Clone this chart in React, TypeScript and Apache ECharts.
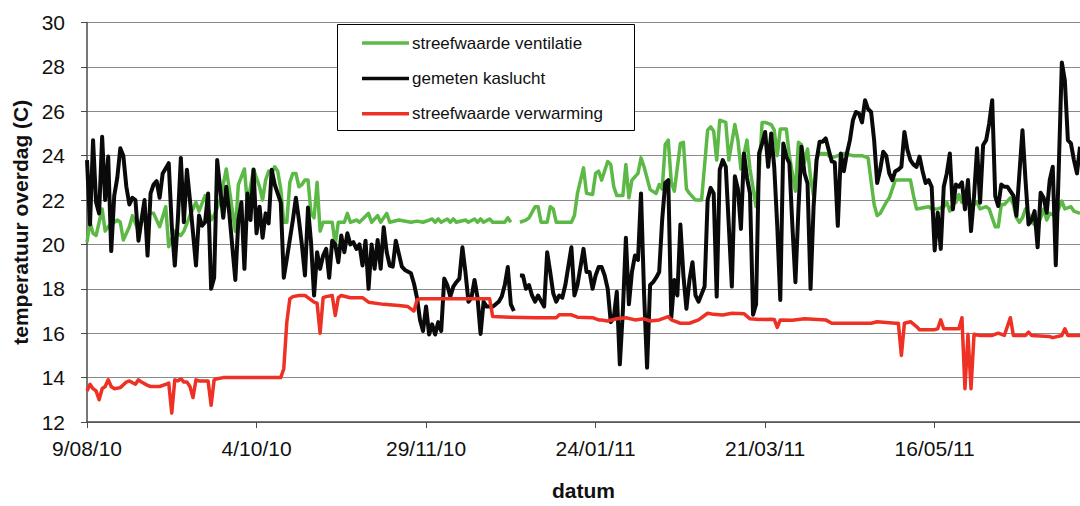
import React, { useEffect, useRef } from "react";
import * as echarts from "echarts";

// x = days since 9/08/10
const xTickDays = [0, 56, 112, 168, 224, 280];
const seriesNames = ["streefwaarde ventilatie", "gemeten kaslucht", "streefwaarde verwarming"];

const ventilatie: [number, number | null][] = [
  [0,20.1],[1,21.0],[2,20.5],[3,20.4],[4,21.0],[5,21.6],[6,20.6],[7,20.8],[9,21.0],[10,21.1],[11,21.0],[12,20.2],[14,20.8],[15,21.3],[17,20.6],[18,21.0],[21,21.4],[22,21.4],[24,20.8],[26,21.7],[27,19.9],[29,20.6],[31,20.4],[32,20.6],[34,21.3],[36,21.9],[37,21.5],[39,22.2],[41,21.1],[42,21.3],[44,22.0],[46,23.4],[47,22.5],[49,20.6],[50,22.7],[52,23.4],[53,21.8],[55,23.4],[57,22.6],[58,22.0],[59,22.9],[60,23.3],[61,23.2],[62,23.5],[63,23.3],[64,22.5],[65,21.0],[66,21.0],[67,22.8],[68,23.2],[69,23.2],[70,22.6],[71,22.7],[72,22.9],[73,22.9],[74,21.4],[75,21.2],[76,22.8],[77,20.6],[78,21.0],[81,21.0],[82,20.0],[83,21.0],[85,21.0],[86,21.4],[87,21.0],[89,21.1],[90,21.0],[93,21.4],[94,21.0],[96,21.3],[97,21.0],[99,21.4],[100,21.0],[103,21.1],[107,21.0],[109,21.05],[111,21.0],[113,21.1],[114,21.15],[115,21.0],[116,21.15],[117,21.0],[119,21.15],[120,21.0],[121,21.15],[122,21.0],[125,21.1],[126,21.0],[128,21.15],[129,21.0],[130,21.15],[131,21.0],[133,21.15],[134,21.0],[138,21.0],[139,21.2],[140,21.0],[141,null],[143,21.0],[145,21.1],[146,21.2],[148,21.7],[149,21.7],[150,21.0],[152,21.0],[153,21.7],[154,21.6],[155,21.0],[160,21.0],[161,21.3],[162,22.3],[164,23.45],[165,22.3],[167,22.25],[168,23.2],[169,23.3],[170,22.9],[172,23.74],[173,23.6],[174,22.6],[175,22.2],[177,22.2],[178,23.6],[179,22.1],[180,22.9],[182,23.2],[183,23.9],[184,23.5],[186,22.47],[188,22.3],[189,22.7],[190,22.5],[191,24.5],[192,24.7],[193,22.8],[194,22.4],[196,24.55],[197,24.6],[198,22.5],[199,22.3],[201,22.0],[203,22.0],[205,25.15],[206,25.3],[207,25.1],[208,23.8],[209,25.6],[211,25.5],[212,23.8],[214,25.4],[215,24.7],[216,23.4],[218,24.7],[219,23.4],[221,21.7],[222,23.2],[223,25.5],[224,25.5],[226,25.4],[227,25.15],[228,24.0],[229,25.2],[231,25.2],[232,24.0],[234,22.4],[235,24.6],[236,24.5],[237,23.7],[238,24.3],[239,23.0],[240,22.2],[241,23.9],[242,24.1],[244,24.1],[246,23.9],[248,24.0],[250,24.1],[253,24.0],[256,24.0],[258,23.9],[260,21.8],[261,21.3],[262,21.4],[264,21.9],[265,22.1],[267,22.9],[272,22.9],[273,22.2],[274,21.6],[278,21.7],[279,21.6],[281,21.6],[283,21.7],[284,21.9],[285,21.5],[286,21.8],[287,21.9],[288,22.25],[289,21.9],[291,22.0],[292,21.7],[294,21.9],[295,21.6],[297,21.7],[298,21.6],[299,21.2],[300,20.8],[301,20.8],[302,21.8],[303,21.8],[305,22.1],[306,21.8],[307,21.2],[308,21.0],[309,21.2],[310,21.6],[311,21.4],[312,21.0],[313,20.9],[314,20.85],[315,21.2],[316,21.6],[317,21.1],[318,21.4],[320,21.3],[322,21.95],[323,21.6],[325,21.7],[326,21.5],[328,21.4]
];

const kaslucht: [number, number | null][] = [
  [0,23.8],[1,20.9],[2,24.7],[3,21.9],[4,21.4],[5,24.85],[6,22.0],[7,23.96],[8,19.7],[9,22.2],[10,23.0],[11,24.33],[12,24.0],[13,22.6],[14,21.8],[15,22.1],[16,22.0],[17,20.17],[18,21.1],[19,22.0],[20,19.5],[21,22.3],[22,22.7],[23,22.85],[24,22.1],[25,23.2],[27,23.66],[28,20.84],[29,19.05],[30,21.1],[31,23.9],[32,21.0],[33,23.37],[34,22.0],[35,20.55],[36,19.05],[37,21.3],[38,20.84],[39,21.0],[40,22.3],[41,18.0],[42,18.5],[43,23.8],[45,21.2],[46,22.6],[47,21.4],[49,18.4],[50,21.1],[51,21.9],[52,18.9],[53,22.3],[54,21.1],[55,23.37],[56,20.5],[57,21.7],[58,20.3],[59,21.4],[60,20.95],[61,23.37],[62,22.7],[64,21.9],[65,18.5],[66,19.35],[68,21.1],[69,22.1],[70,21.1],[71,19.95],[72,18.6],[73,21.66],[74,20.1],[75,17.7],[76,19.65],[77,18.9],[78,19.5],[79,19.8],[80,18.5],[81,20.17],[82,20.0],[83,19.2],[84,20.4],[85,19.65],[86,20.5],[87,20.0],[88,20.1],[89,19.8],[90,20.0],[91,19.05],[92,20.17],[93,18.0],[94,20.0],[95,18.9],[96,20.2],[97,18.9],[98,20.77],[99,19.65],[100,19.05],[101,19.0],[102,20.17],[104,19.0],[105,18.85],[107,18.7],[108,18.24],[109,17.6],[110,16.6],[111,16.1],[112,17.2],[113,15.94],[114,16.4],[115,15.94],[116,16.5],[117,16.1],[118,18.46],[119,18.17],[120,17.65],[121,18.1],[122,18.3],[123,18.46],[124,19.87],[125,18.76],[126,17.42],[127,17.6],[128,18.4],[129,17.6],[130,15.97],[131,17.42],[132,17.2],[134,17.2],[135,17.3],[136,17.42],[137,17.65],[138,18.17],[139,18.98],[140,17.3],[141,17.0],[142,null],[143,18.6],[144,18.6],[145,18.0],[146,18.17],[147,17.7],[148,17.42],[149,17.7],[151,17.2],[152,19.65],[153,18.76],[154,17.8],[155,17.42],[156,17.7],[157,17.6],[158,18.17],[160,19.87],[161,17.7],[162,18.17],[164,19.8],[165,18.76],[166,18.76],[167,18.0],[168,18.6],[169,18.98],[170,18.98],[171,18.6],[172,18.0],[173,16.5],[174,16.7],[175,17.87],[176,14.6],[177,17.0],[178,20.3],[179,17.3],[180,18.76],[181,19.5],[182,19.3],[183,22.3],[184,17.8],[185,14.45],[186,18.17],[187,18.3],[188,18.5],[189,18.76],[190,21.14],[191,22.77],[192,22.9],[193,16.7],[194,18.4],[195,17.7],[196,20.9],[197,18.6],[198,17.1],[199,18.4],[200,19.2],[201,17.7],[202,17.42],[204,18.1],[205,22.0],[206,22.55],[207,22.3],[208,17.65],[209,23.37],[210,23.8],[211,23.5],[212,20.84],[213,18.1],[214,23.07],[215,22.5],[216,20.7],[217,24.1],[218,23.0],[219,22.3],[220,16.83],[221,17.3],[222,24.1],[223,24.55],[224,25.07],[225,23.5],[226,25.0],[227,23.5],[228,20.84],[229,17.5],[230,24.55],[231,23.96],[232,23.66],[233,20.84],[234,18.3],[235,21.6],[236,24.4],[237,23.2],[238,22.75],[239,18.0],[240,21.7],[241,23.8],[242,24.63],[243,24.63],[244,24.78],[245,24.26],[246,23.74],[247,23.7],[248,20.84],[249,24.1],[250,23.3],[251,24.1],[252,24.7],[253,25.6],[254,25.97],[255,25.9],[256,25.5],[257,26.5],[258,26.1],[259,25.97],[260,24.7],[261,22.77],[262,23.37],[263,24.18],[264,24.0],[265,23.2],[266,22.9],[267,23.3],[268,23.37],[269,23.5],[270,25.07],[271,24.26],[272,23.8],[273,23.6],[274,23.5],[275,23.96],[276,23.3],[277,22.77],[278,22.9],[279,22.6],[280,19.73],[281,21.43],[282,19.8],[283,22.6],[284,23.2],[285,24.1],[286,21.58],[287,22.7],[288,22.6],[289,22.8],[290,21.58],[291,22.9],[292,20.6],[293,22.18],[294,24.33],[295,21.88],[296,24.48],[297,24.7],[298,25.45],[299,26.5],[300,22.18],[301,21.73],[302,22.7],[303,22.6],[304,22.6],[305,22.4],[306,22.2],[307,21.29],[309,25.15],[310,22.9],[311,20.9],[312,21.1],[313,21.5],[314,19.87],[315,22.33],[316,22.1],[317,21.43],[318,22.9],[319,23.5],[320,19.06],[321,23.5],[322,28.2],[323,27.38],[324,24.7],[325,24.55],[326,23.8],[327,23.2],[328,24.4]
];

const verwarming: [number, number | null][] = [
  [0,13.4],[1,13.7],[2,13.5],[3,13.4],[4,13.0],[5,13.5],[6,13.6],[7,13.9],[8,13.6],[9,13.5],[11,13.55],[13,13.8],[14,13.85],[16,13.7],[17,13.9],[18,13.8],[20,13.65],[21,13.6],[24,13.6],[26,13.7],[27,13.75],[28,12.4],[29,13.9],[30,13.85],[31,13.95],[32,13.8],[33,13.8],[34,13.6],[35,13.1],[36,13.9],[37,13.85],[39,13.85],[40,13.85],[41,12.75],[42,13.9],[43,13.95],[45,14.0],[64,14.0],[65,14.4],[66,16.5],[67,17.55],[68,17.65],[70,17.7],[72,17.7],[73,17.6],[74,17.5],[75,17.4],[76,17.35],[77,16.0],[78,17.6],[79,17.65],[81,17.7],[82,16.8],[83,17.6],[84,17.7],[87,17.6],[91,17.6],[92,17.5],[93,17.4],[98,17.3],[103,17.25],[106,17.2],[107,17.1],[108,17.0],[109,17.5],[110,17.55],[133,17.55],[134,16.75],[140,16.72],[148,16.7],[155,16.7],[156,16.83],[160,16.83],[162,16.72],[167,16.7],[169,16.6],[170,16.6],[172,16.55],[175,16.65],[178,16.7],[181,16.6],[184,16.65],[186,16.55],[189,16.6],[192,16.75],[193,16.6],[196,16.45],[199,16.45],[202,16.6],[205,16.9],[207,16.85],[210,16.82],[213,16.9],[217,16.88],[219,16.65],[222,16.62],[226,16.63],[227,16.62],[228,16.26],[229,16.6],[233,16.58],[237,16.65],[244,16.6],[246,16.45],[252,16.45],[259,16.45],[261,16.52],[267,16.45],[268,16.45],[269,15.0],[270,16.45],[272,16.52],[274,16.3],[275,16.16],[280,16.16],[281,16.2],[282,16.6],[283,16.2],[288,16.2],[289,16.7],[290,13.5],[291,15.95],[292,13.5],[293,15.95],[295,15.9],[299,15.9],[301,16.0],[303,15.9],[305,16.7],[306,15.9],[310,15.9],[311,16.05],[312,15.9],[318,15.85],[319,15.8],[322,15.9],[323,16.2],[324,15.9],[328,15.9]
];

const BASE = Date.UTC(2010, 7, 9);
const pad = (n: number) => (n < 10 ? "0" + n : "" + n);
const fmtDay = (v: number) => {
  if (!xTickDays.includes(Math.round(v))) return "";
  const d = new Date(BASE + Math.round(v) * 86400000);
  return `${d.getUTCDate()}/${pad(d.getUTCMonth() + 1)}/${pad(d.getUTCFullYear() % 100)}`;
};

const FONT = "'Liberation Sans', Arial, Helvetica, sans-serif";

export default function App() {
  const ref = useRef<HTMLDivElement>(null);
  useEffect(() => {
    if (!ref.current) return;
    const chart = echarts.init(ref.current, null, { renderer: "svg" });
    const colors = ["#5cb946", "#0a0a0a", "#ee3124"];
    const widths = [3.5, 4, 3.5];
    chart.setOption({
      animation: false,
      backgroundColor: "#ffffff",
      textStyle: { fontFamily: FONT },
      grid: { left: 87, right: 0, top: 22.5, bottom: 81, containLabel: false },
      legend: {
        data: seriesNames,
        orient: "vertical",
        left: 362,
        top: 33,
        padding: 0,
        icon: "rect",
        itemWidth: 47,
        itemHeight: 3.5,
        itemGap: 15.4,
        z: 5,
        textStyle: { fontSize: 17, color: "#111", fontFamily: FONT, lineHeight: 20, padding: [0, 0, 0, -2] },
      },
      graphic: [
        {
          type: "rect",
          z: 1,
          shape: { x: 337.5, y: 24.5, width: 297, height: 106 },
          style: { fill: "#ffffff", stroke: "#000000", lineWidth: 1 },
        },
      ],
      xAxis: {
        type: "value",
        min: 0,
        max: 328,
        interval: 56,
        name: "datum",
        nameLocation: "middle",
        nameGap: 58,
        nameTextStyle: { fontSize: 21, fontWeight: "bold", color: "#111", fontFamily: FONT },
        axisLine: { show: true, lineStyle: { color: "#4a4a4a", width: 1.5 } },
        axisTick: { show: true, length: 6, lineStyle: { color: "#4a4a4a" } },
        splitLine: { show: false },
        axisLabel: {
          margin: 16,
          fontSize: 21,
          color: "#111",
          fontFamily: FONT,
          showMaxLabel: false,
          formatter: (v: number) => fmtDay(v),
        },
      },
      yAxis: {
        type: "value",
        min: 12,
        max: 30,
        interval: 2,
        name: "temperatuur overdag (C)",
        nameLocation: "middle",
        nameGap: 53,
        nameTextStyle: { fontSize: 21, fontWeight: "bold", color: "#111", fontFamily: FONT },
        axisLine: { show: true, lineStyle: { color: "#4a4a4a", width: 1.5 } },
        axisTick: { show: true, length: 6, lineStyle: { color: "#4a4a4a" } },
        splitLine: { show: true, lineStyle: { color: "#8a8a8a", width: 1.2 } },
        axisLabel: { margin: 22, fontSize: 21, color: "#111", fontFamily: FONT },
      },
      series: [
        { name: seriesNames[0], data: ventilatie, color: colors[0], w: widths[0] },
        { name: seriesNames[1], data: kaslucht, color: colors[1], w: widths[1] },
        { name: seriesNames[2], data: verwarming, color: colors[2], w: widths[2] },
      ].map((s) => ({
        type: "line",
        name: s.name,
        data: s.data,
        showSymbol: false,
        symbol: "none",
        connectNulls: false,
        itemStyle: { color: s.color },
        lineStyle: { color: s.color, width: s.w, join: "round" },
        z: 2,
      })),
    });
    return () => chart.dispose();
  }, []);
  return (
    <div
      ref={ref}
      style={{ position: "fixed", left: 0, top: 0, width: 1080, height: 506, background: "#fff" }}
    />
  );
}
